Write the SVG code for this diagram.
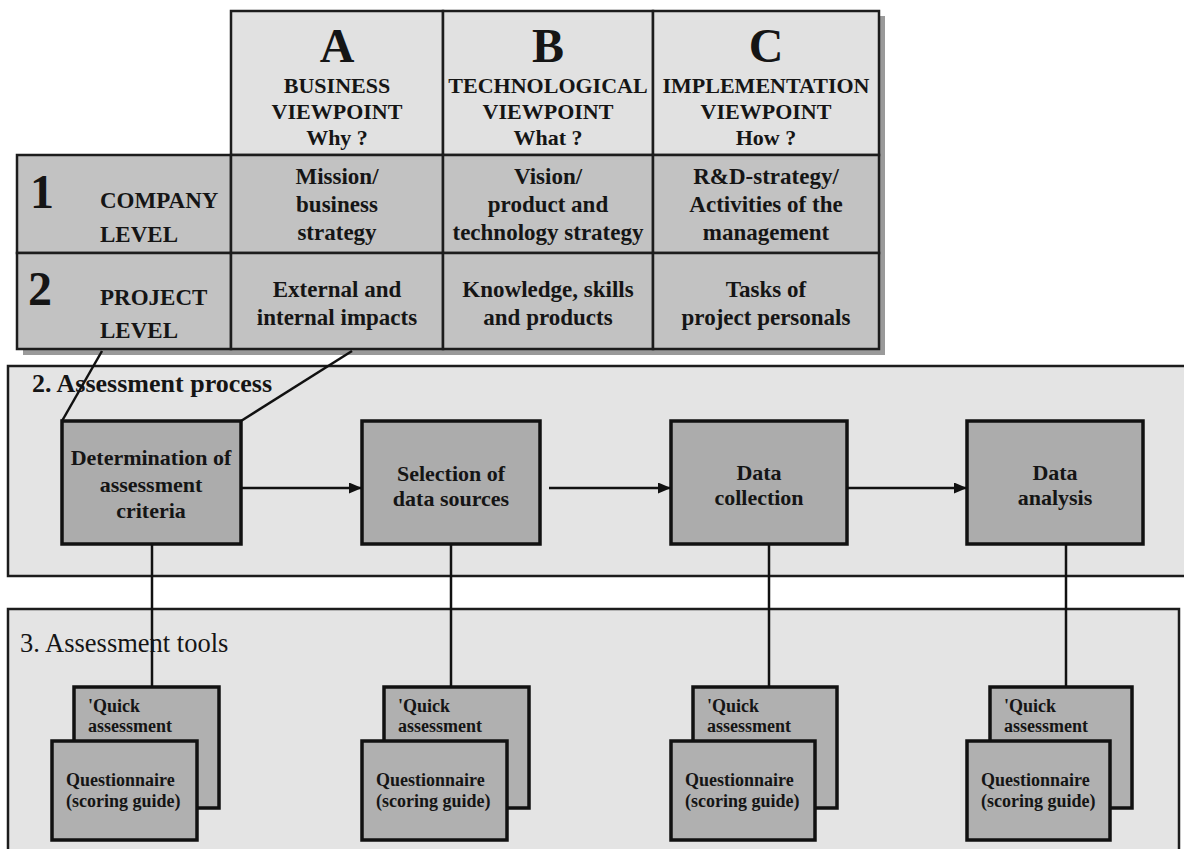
<svg xmlns="http://www.w3.org/2000/svg" width="1184" height="849" viewBox="0 0 1184 849">
<style>
text{font-family:"Liberation Serif","Times New Roman",serif;fill:#151515;font-weight:bold}
.hd{font-size:22px;text-anchor:middle}
.big{font-size:48px}
.cell{font-size:23px;text-anchor:middle}
.lab{font-size:23px}
.sec{font-size:26px}
.pt{font-size:22px;text-anchor:middle}
.tt{font-size:18px}
.hdr{fill:#e1e1e1;stroke:#1c1c1c;stroke-width:2.5}
.row{fill:#c2c2c2;stroke:#1c1c1c;stroke-width:2.5}
.secbox{fill:#e4e4e4;stroke:#1c1c1c;stroke-width:2.5}
.pbox{fill:#acacac;stroke:#111;stroke-width:3.5}
.tbox{fill:#b0b0b0;stroke:#111;stroke-width:3.5}
.ln{stroke:#111;stroke-width:2.5;fill:none}
</style>
<defs>
<marker id="ah" viewBox="0 0 13 11" refX="13" refY="5.5" markerWidth="13" markerHeight="11" markerUnits="userSpaceOnUse" orient="auto">
<path d="M0,0 L13,5.5 L0,11 z" fill="#111"/>
</marker>
</defs>
<rect width="1184" height="849" fill="#fff"/>

<g id="table">
<rect x="237" y="16" width="648" height="339" fill="#9a9a9a"/>
<rect x="23" y="160" width="220" height="195" fill="#9a9a9a"/>
<g id="hdrA"><rect class="hdr" x="231" y="11" width="212" height="144"/>
<text class="big" x="337" y="62" text-anchor="middle">A</text>
<text class="hd" x="337" y="93">BUSINESS</text><text class="hd" x="337" y="119">VIEWPOINT</text><text class="hd" x="337" y="145">Why ?</text></g>
<g id="hdrB"><rect class="hdr" x="443" y="11" width="210" height="144"/>
<text class="big" x="548" y="62" text-anchor="middle">B</text>
<text class="hd" x="548" y="93">TECHNOLOGICAL</text><text class="hd" x="548" y="119">VIEWPOINT</text><text class="hd" x="548" y="145">What ?</text></g>
<g id="hdrC"><rect class="hdr" x="653" y="11" width="226" height="144"/>
<text class="big" x="766" y="62" text-anchor="middle">C</text>
<text class="hd" x="766" y="93">IMPLEMENTATION</text><text class="hd" x="766" y="119">VIEWPOINT</text><text class="hd" x="766" y="145">How ?</text></g>
<g id="row1label"><rect class="row" x="17" y="155" width="214" height="98"/>
<text class="big" x="30" y="208">1</text>
<text class="lab" x="100" y="208">COMPANY</text><text class="lab" x="100" y="242">LEVEL</text></g>
<g id="row2label"><rect class="row" x="17" y="253" width="214" height="96"/>
<text class="big" x="28" y="305">2</text>
<text class="lab" x="100" y="305">PROJECT</text><text class="lab" x="100" y="338">LEVEL</text></g>
<g id="cellA1"><rect class="row" x="231" y="155" width="212" height="98"/>
<text class="cell" x="337" y="184">Mission/</text><text class="cell" x="337" y="212">business</text><text class="cell" x="337" y="240">strategy</text></g>
<g id="cellB1"><rect class="row" x="443" y="155" width="210" height="98"/>
<text class="cell" x="548" y="184">Vision/</text><text class="cell" x="548" y="212">product and</text><text class="cell" x="548" y="240">technology strategy</text></g>
<g id="cellC1"><rect class="row" x="653" y="155" width="226" height="98"/>
<text class="cell" x="766" y="184">R&amp;D-strategy/</text><text class="cell" x="766" y="212">Activities of the</text><text class="cell" x="766" y="240">management</text></g>
<g id="cellA2"><rect class="row" x="231" y="253" width="212" height="96"/>
<text class="cell" x="337" y="297">External and</text><text class="cell" x="337" y="325">internal impacts</text></g>
<g id="cellB2"><rect class="row" x="443" y="253" width="210" height="96"/>
<text class="cell" x="548" y="297">Knowledge, skills</text><text class="cell" x="548" y="325">and products</text></g>
<g id="cellC2"><rect class="row" x="653" y="253" width="226" height="96"/>
<text class="cell" x="766" y="297">Tasks of</text><text class="cell" x="766" y="325">project personals</text></g>
</g>

<g id="process-section">
<rect class="secbox" x="8" y="366" width="1190" height="210"/>
<text class="sec" x="32" y="392">2. Assessment process</text>
</g>

<g id="tools-section">
<rect class="secbox" x="8" y="609" width="1171" height="245"/>
<text class="sec" x="20" y="652" style="font-weight:normal;font-size:26.5px">3. Assessment tools</text>
</g>

<g id="connectors">
<line class="ln" x1="62" y1="421" x2="102" y2="351"/>
<line class="ln" x1="241" y1="421" x2="352" y2="351"/>
<line class="ln" x1="241" y1="488" x2="362" y2="488" marker-end="url(#ah)"/>
<line class="ln" x1="549" y1="488" x2="671" y2="488" marker-end="url(#ah)"/>
<line class="ln" x1="847" y1="488" x2="967" y2="488" marker-end="url(#ah)"/>
<line class="ln" x1="152" y1="545" x2="152" y2="687"/>
<line class="ln" x1="451" y1="545" x2="451" y2="687"/>
<line class="ln" x1="769" y1="545" x2="769" y2="687"/>
<line class="ln" x1="1066" y1="545" x2="1066" y2="687"/>
</g>

<g id="p1"><rect class="pbox" x="62" y="421" width="179" height="123"/>
<text class="pt" x="151" y="465">Determination of</text><text class="pt" x="151" y="492">assessment</text><text class="pt" x="151" y="518">criteria</text></g>
<g id="p2"><rect class="pbox" x="362" y="421" width="178" height="123"/>
<text class="pt" x="451" y="481">Selection of</text><text class="pt" x="451" y="506">data sources</text></g>
<g id="p3"><rect class="pbox" x="671" y="421" width="176" height="123"/>
<text class="pt" x="759" y="480">Data</text><text class="pt" x="759" y="505">collection</text></g>
<g id="p4"><rect class="pbox" x="967" y="421" width="176" height="123"/>
<text class="pt" x="1055" y="480">Data</text><text class="pt" x="1055" y="505">analysis</text></g>

<g id="t1">
<rect class="tbox" x="74" y="687" width="145" height="121"/>
<text class="tt" x="88" y="712">'Quick</text><text class="tt" x="88" y="732">assessment</text>
<rect class="tbox" x="52" y="741" width="145" height="99"/>
<text class="tt" x="66" y="786">Questionnaire</text><text class="tt" x="66" y="807">(scoring guide)</text>
</g>
<g id="t2">
<rect class="tbox" x="384" y="687" width="145" height="121"/>
<text class="tt" x="398" y="712">'Quick</text><text class="tt" x="398" y="732">assessment</text>
<rect class="tbox" x="362" y="741" width="145" height="99"/>
<text class="tt" x="376" y="786">Questionnaire</text><text class="tt" x="376" y="807">(scoring guide)</text>
</g>
<g id="t3">
<rect class="tbox" x="693" y="687" width="144" height="121"/>
<text class="tt" x="707" y="712">'Quick</text><text class="tt" x="707" y="732">assessment</text>
<rect class="tbox" x="671" y="741" width="144" height="99"/>
<text class="tt" x="685" y="786">Questionnaire</text><text class="tt" x="685" y="807">(scoring guide)</text>
</g>
<g id="t4">
<rect class="tbox" x="990" y="687" width="142" height="121"/>
<text class="tt" x="1004" y="712">'Quick</text><text class="tt" x="1004" y="732">assessment</text>
<rect class="tbox" x="967" y="741" width="143" height="99"/>
<text class="tt" x="981" y="786">Questionnaire</text><text class="tt" x="981" y="807">(scoring guide)</text>
</g>
</svg>
